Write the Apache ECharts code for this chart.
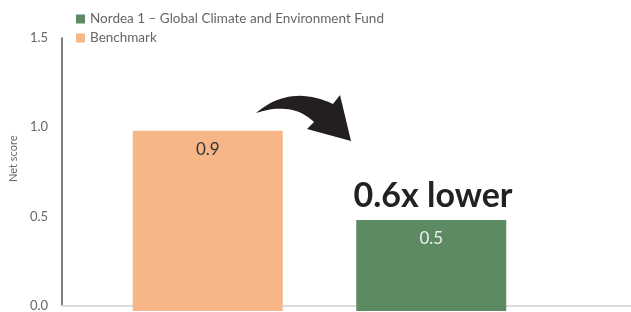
<!DOCTYPE html>
<html><head><meta charset="utf-8">
<script src="https://cdn.jsdelivr.net/npm/echarts@6/dist/echarts.min.js"></script>
<style>html,body{margin:0;padding:0;background:#fff}#c{width:631px;height:312px}</style>
</head><body><div id="c"></div>
<script>
const categories = [''];
const seriesNames = ['Nordea 1 – Global Climate and Environment Fund', 'Benchmark'];
const fundValues = [0.5];
const benchmarkValues = [0.99];
const yTicks = [0, 0.5, 1.0, 1.5];
const annotationText = '0.6x lower';

const FONT = 'Lato, "Open Sans", sans-serif';
const trunc1 = v => (Math.floor(v * 10 + 1e-9) / 10).toFixed(1);

function quad(p0, c, p1, n) {
  const pts = [];
  for (let i = 0; i <= n; i++) {
    const t = i / n, a = (1 - t) * (1 - t), b = 2 * (1 - t) * t, d = t * t;
    pts.push([a * p0[0] + b * c[0] + d * p1[0], a * p0[1] + b * c[1] + d * p1[1]]);
  }
  return pts;
}
const arrowPts = [].concat(
  quad([256, 113], [290, 84], [333, 104], 20),
  [[340, 95], [351, 141], [307, 129]],
  quad([314, 122], [292, 101], [256, 113], 20)
);

const chart = echarts.init(document.getElementById('c'), null, {renderer: 'canvas'});
chart.setOption({
  animation: false,
  textStyle: {fontFamily: FONT},
  legend: {
    orient: 'vertical', left: 71, top: 7, itemWidth: 9, itemHeight: 9, itemGap: 5,
    icon: 'rect',
    data: [seriesNames[0], seriesNames[1]],
    textStyle: {color: '#666', fontSize: 13.5, fontFamily: FONT}
  },
  grid: [
    {left: 61, right: 0, top: 38, bottom: 1},
    {left: 61, right: 53, top: 38, bottom: 1}
  ],
  xAxis: [
    {gridIndex: 0, type: 'category', data: categories, axisLine: {lineStyle: {color: '#dddddd', width: 2}}, axisTick: {show: false}, axisLabel: {show: false}},
    {gridIndex: 1, type: 'category', data: categories, show: false}
  ],
  yAxis: [
    {gridIndex: 0, type: 'value', min: yTicks[0], max: yTicks[yTicks.length - 1], interval: 0.5,
     name: 'Net score', nameLocation: 'middle', nameGap: 41,
     nameTextStyle: {color: '#666', fontSize: 11, fontFamily: FONT, padding: [0, 0, 0, 26]},
     axisLine: {show: true, lineStyle: {color: '#555', width: 1.5}}, axisTick: {show: false},
     splitLine: {show: false},
     axisLabel: {color: '#666', fontSize: 13, margin: 14, formatter: v => v.toFixed(1)}},
    {gridIndex: 1, type: 'value', min: yTicks[0], max: yTicks[yTicks.length - 1], interval: 0.5, show: false, splitLine: {show: false}}
  ],
  series: [
    {name: seriesNames[1], type: 'bar', xAxisIndex: 1, yAxisIndex: 1, data: benchmarkValues,
     barWidth: 150, barGap: '49%', itemStyle: {color: '#F7B687'},
     label: {show: true, position: 'insideTop', distance: 10, color: '#333', fontSize: 17, fontFamily: FONT, formatter: p => trunc1(p.value)}},
    {name: seriesNames[0], type: 'bar', xAxisIndex: 1, yAxisIndex: 1, data: fundValues,
     barWidth: 150, barGap: '49%', itemStyle: {color: '#5C8A63'},
     label: {show: true, position: 'insideTop', distance: 10, color: '#eeeeee', fontSize: 17, fontFamily: FONT, formatter: p => trunc1(p.value)}}
  ],
  graphic: [
    {type: 'polygon', shape: {points: arrowPts}, style: {fill: '#231F20'}},
    {type: 'text', x: 433, y: 196, style: {text: annotationText, fill: '#222', font: 'bold 34px ' + FONT, textAlign: 'center', textVerticalAlign: 'middle'}}
  ]
});
</script></body></html>
